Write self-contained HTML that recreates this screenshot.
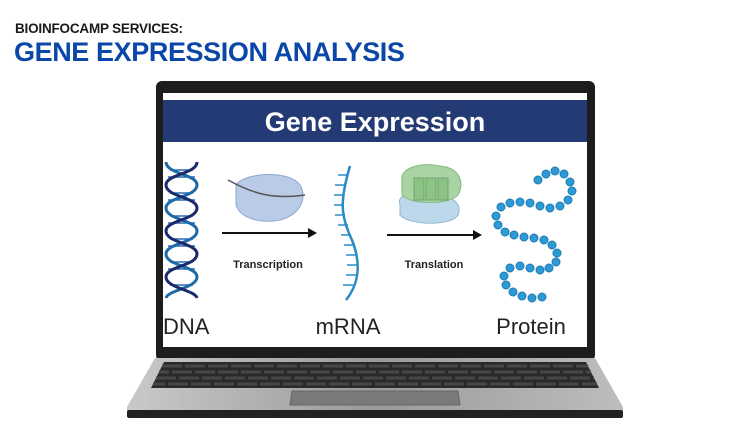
<!DOCTYPE html>
<html><head><style>
body{margin:0;width:750px;height:422px;background:#fff;overflow:hidden;font-family:"Liberation Sans",sans-serif;}
.t1{position:absolute;left:15px;top:21px;font-size:13.5px;font-weight:bold;color:#1a1a1a;letter-spacing:-0.2px}
.t2{position:absolute;left:14px;top:37px;font-size:27px;font-weight:bold;color:#0b47a8;letter-spacing:-0.4px}
</style></head><body>
<div class="t1">BIOINFOCAMP SERVICES:</div>
<div class="t2">GENE EXPRESSION ANALYSIS</div>
<svg width="750" height="422" style="position:absolute;left:0;top:0" xmlns="http://www.w3.org/2000/svg">
<defs>
<linearGradient id="base" x1="0" x2="1"><stop offset="0" stop-color="#c9c9c9"/><stop offset="0.5" stop-color="#9a9a9a"/><stop offset="1" stop-color="#bdbdbd"/></linearGradient>
</defs>
<rect x="156" y="81" width="439" height="280" rx="6" fill="#1d1d1d"/>
<rect x="163" y="93" width="424" height="254" fill="#fff"/>
<rect x="163" y="100" width="424" height="42" fill="#243a74"/>
<text x="375" y="131" text-anchor="middle" font-size="27" font-weight="bold" fill="#fff">Gene Expression</text>
<path d="M155 358 L595 358 L623 407 L623 412 L127 412 L127 407 Z" fill="url(#base)"/>
<rect x="127" y="410" width="496" height="8" rx="2" fill="#222"/>
<path d="M164 362 L586 362 L599 388 L151 388 Z" fill="#2a2a2a"/>
<g stroke="#474747" stroke-width="3" stroke-dasharray="20 3">
<line x1="162" y1="366" x2="588" y2="366"/><line x1="159" y1="372" x2="591" y2="372" stroke-dashoffset="10"/>
<line x1="156" y1="378" x2="594" y2="378"/><line x1="153" y1="384" x2="597" y2="384" stroke-dashoffset="8"/>
</g>
<path d="M292 391 L458 391 L460 405 L290 405 Z" fill="#7a7a7a" stroke="#666"/>
<!-- DNA rungs -->
<g stroke="#2a6cb0" stroke-width="1.5">
<line x1="170" y1="170" x2="193" y2="170"/><line x1="168" y1="177" x2="195" y2="177"/>
<line x1="170" y1="193" x2="193" y2="193"/><line x1="168" y1="200" x2="195" y2="200"/>
<line x1="170" y1="216" x2="193" y2="216"/><line x1="168" y1="223" x2="195" y2="223"/>
<line x1="170" y1="239" x2="193" y2="239"/><line x1="168" y1="246" x2="195" y2="246"/>
<line x1="170" y1="262" x2="193" y2="262"/><line x1="168" y1="269" x2="195" y2="269"/>
<line x1="170" y1="285" x2="193" y2="285"/>
</g>
<g fill="none" stroke-width="3">
<path d="M166 162 C166 174,197 174,197 185 C197 197,166 197,166 208 C166 220,197 220,197 231 C197 243,166 243,166 254 C166 266,197 266,197 277 C197 288,168 290,166 298" stroke="#1e6aa8"/>
<path d="M197 162 C197 174,166 174,166 185 C166 197,197 197,197 208 C197 220,166 220,166 231 C166 243,197 243,197 254 C197 266,166 266,166 277 C166 288,195 290,197 298" stroke="#1b2a6b"/>
</g>
<path d="M236 185 C245 172,290 170,300 185 C308 198,300 215,280 220 C260 224,240 218,236 205 Z" fill="#b9cbe6" stroke="#8ea8d0"/>
<path d="M228 180 C250 192,270 200,305 195" fill="none" stroke="#555" stroke-width="1.5"/>
<line x1="222" y1="233" x2="310" y2="233" stroke="#111" stroke-width="2"/>
<path d="M317 233 L308 228 L308 238 Z" fill="#111"/>
<text x="268" y="268" text-anchor="middle" font-size="11" font-weight="bold" fill="#222">Transcription</text>
<line x1="387" y1="235" x2="475" y2="235" stroke="#111" stroke-width="2"/>
<path d="M482 235 L473 230 L473 240 Z" fill="#111"/>
<text x="434" y="268" text-anchor="middle" font-size="11" font-weight="bold" fill="#222">Translation</text>
<path d="M350 166 C340 200,340 215,352 240 C362 265,358 285,346 300" fill="none" stroke="#2a8ac8" stroke-width="2.5"/>
<g stroke="#2a8ac8" stroke-width="1.5">
<line x1="348" y1="175" x2="338" y2="175"/><line x1="345" y1="185" x2="335" y2="185"/><line x1="344" y1="195" x2="334" y2="195"/>
<line x1="344" y1="205" x2="334" y2="205"/><line x1="345" y1="215" x2="335" y2="215"/><line x1="348" y1="225" x2="338" y2="225"/>
<line x1="351" y1="235" x2="341" y2="235"/><line x1="354" y1="245" x2="344" y2="245"/><line x1="356" y1="255" x2="346" y2="255"/>
<line x1="357" y1="265" x2="347" y2="265"/><line x1="356" y1="275" x2="346" y2="275"/><line x1="353" y1="285" x2="343" y2="285"/>
</g>
<path d="M400 205 C396 195,410 192,430 194 C455 195,462 205,458 215 C452 226,410 226,400 215 Z" fill="#bcd8ea" stroke="#8fb8d2"/>
<path d="M402 180 C400 168,420 162,440 166 C462 168,464 185,458 195 C450 205,410 205,402 195 Z" fill="#a8d4a4" stroke="#86b883"/>
<g fill="#8cc486" stroke="#6fa36a"><rect x="414" y="178" width="10" height="22"/><rect x="426" y="178" width="10" height="22"/><rect x="438" y="178" width="10" height="22"/></g>
<g fill="#2c9ad6" stroke="#1f7bb0" stroke-width="1">
<circle cx="538" cy="180" r="4"/><circle cx="546" cy="174" r="4"/><circle cx="555" cy="171" r="4"/><circle cx="564" cy="174" r="4"/><circle cx="570" cy="182" r="4"/><circle cx="572" cy="191" r="4"/><circle cx="568" cy="200" r="4"/><circle cx="560" cy="206" r="4"/><circle cx="550" cy="208" r="4"/><circle cx="540" cy="206" r="4"/><circle cx="530" cy="203" r="4"/><circle cx="520" cy="202" r="4"/><circle cx="510" cy="203" r="4"/><circle cx="501" cy="207" r="4"/><circle cx="496" cy="216" r="4"/><circle cx="498" cy="225" r="4"/><circle cx="505" cy="232" r="4"/><circle cx="514" cy="235" r="4"/><circle cx="524" cy="237" r="4"/><circle cx="534" cy="238" r="4"/><circle cx="544" cy="240" r="4"/><circle cx="552" cy="245" r="4"/><circle cx="557" cy="253" r="4"/><circle cx="556" cy="262" r="4"/><circle cx="549" cy="268" r="4"/><circle cx="540" cy="270" r="4"/><circle cx="530" cy="268" r="4"/><circle cx="520" cy="266" r="4"/><circle cx="510" cy="268" r="4"/><circle cx="504" cy="276" r="4"/><circle cx="506" cy="285" r="4"/><circle cx="513" cy="292" r="4"/><circle cx="522" cy="296" r="4"/><circle cx="532" cy="298" r="4"/><circle cx="542" cy="297" r="4"/>
</g>
<text x="163" y="334" font-size="22" fill="#222">DNA</text>
<text x="348" y="334" text-anchor="middle" font-size="22" fill="#222">mRNA</text>
<text x="531" y="334" text-anchor="middle" font-size="22" fill="#222">Protein</text>
</svg>
</body></html>
